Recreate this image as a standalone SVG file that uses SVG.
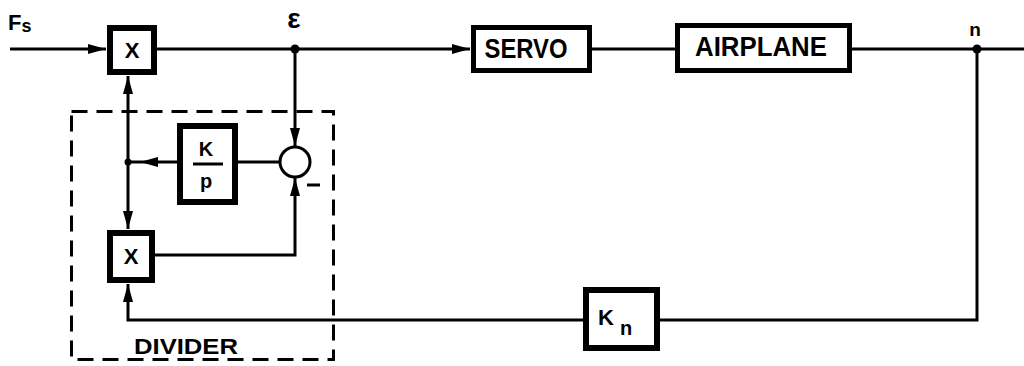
<svg xmlns="http://www.w3.org/2000/svg" width="1024" height="366" viewBox="0 0 1024 366">
<style>
.box{fill:#fff;stroke:#000}
.ln{fill:none;stroke:#000;stroke-width:3}
.t{font-family:"Liberation Sans",Arial,sans-serif;font-weight:bold;fill:#000}
</style>
<defs>
<marker id="arr" viewBox="0 0 18 10" refX="18" refY="5" markerWidth="18" markerHeight="10" orient="auto" markerUnits="userSpaceOnUse"><path d="M0,0 L18,5 L0,10 z" fill="#000"/></marker>
</defs>
<rect width="1024" height="366" fill="#fff"/>
<g id="connectors">
<path class="ln" d="M10 49 H106" marker-end="url(#arr)"/>
<path class="ln" d="M157 49 H470" marker-end="url(#arr)"/>
<path class="ln" d="M592 49 H675"/>
<path class="ln" d="M852 49 H1024"/>
<path class="ln" d="M977 49 V320 H660"/>
<path class="ln" d="M583 320 H128 V284" marker-end="url(#arr)"/>
<path class="ln" d="M295 49 V146" marker-end="url(#arr)"/>
<path class="ln" d="M280 162 H238"/>
<path class="ln" d="M177 162 H140" marker-end="url(#arr)"/>
<path class="ln" d="M140 162 H128"/>
<path class="ln" d="M128 162 V76" marker-end="url(#arr)"/>
<path class="ln" d="M128 162 V229" marker-end="url(#arr)"/>
<path class="ln" d="M155 255 H295 V178" marker-end="url(#arr)"/>
<circle cx="295" cy="49" r="4.5" fill="#000"/>
<circle cx="977" cy="49" r="4.5" fill="#000"/>
<circle cx="128" cy="162" r="3.5" fill="#000"/>
</g>
<g id="divider">
<rect x="71.5" y="111.5" width="262" height="248" fill="none" stroke="#000" stroke-width="3" stroke-dasharray="16 9"/>
<text class="t" x="186" y="354" font-size="22" text-anchor="middle" textLength="104" lengthAdjust="spacingAndGlyphs">DIVIDER</text>
</g>
<g id="mult1">
<rect class="box" x="110" y="28" width="44" height="44" stroke-width="6"/>
<text class="t" x="132" y="58" font-size="22" text-anchor="middle">X</text>
</g>
<g id="mult2">
<rect class="box" x="110" y="233" width="42" height="47" stroke-width="6"/>
<text class="t" x="131" y="264" font-size="22" text-anchor="middle">X</text>
</g>
<g id="kp">
<rect class="box" x="180" y="126" width="55" height="76" stroke-width="6"/>
<text class="t" x="206" y="156" font-size="20" text-anchor="middle">K</text>
<line x1="193" y1="164" x2="223" y2="164" stroke="#000" stroke-width="3"/>
<text class="t" x="206" y="188" font-size="20" text-anchor="middle">p</text>
</g>
<g id="sum">
<circle cx="295" cy="162" r="15" fill="#fff" stroke="#000" stroke-width="3"/>
<line x1="307" y1="185" x2="320" y2="185" stroke="#000" stroke-width="3"/>
</g>
<g id="servo">
<rect class="box" x="473.5" y="27.5" width="116" height="43" stroke-width="5"/>
<text class="t" x="526" y="58" font-size="27" text-anchor="middle" textLength="83" lengthAdjust="spacingAndGlyphs">SERVO</text>
</g>
<g id="airplane">
<rect class="box" x="677.5" y="25.5" width="172" height="45" stroke-width="5"/>
<text class="t" x="761" y="56" font-size="27" text-anchor="middle" textLength="132" lengthAdjust="spacingAndGlyphs">AIRPLANE</text>
</g>
<g id="kn">
<rect class="box" x="586" y="290" width="71" height="58" stroke-width="6"/>
<text class="t" x="598" y="325" font-size="22">K<tspan font-size="20" dx="6" dy="10">n</tspan></text>
</g>
<g id="labels">
<text class="t" x="8" y="30" font-size="22">F<tspan font-size="18" dy="2">s</tspan></text>
<text class="t" x="294" y="28" font-size="28" text-anchor="middle">ε</text>
<text class="t" x="975" y="36" font-size="19" text-anchor="middle">n</text>
</g>
</svg>
